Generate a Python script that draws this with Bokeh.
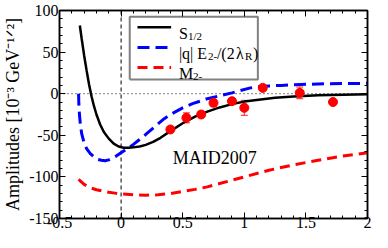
import numpy as np
from bokeh.plotting import figure
from bokeh.models import (Range1d, LinearAxis, Span, Label, Arrow,
                          Whisker, ColumnDataSource, TeeHead, FixedTicker, CustomJSTickFormatter)
from bokeh.embed import file_html
from bokeh.resources import INLINE

# ---- data ----
s12_x = [-0.335, -0.32, -0.30, -0.28, -0.26, -0.24, -0.22, -0.20, -0.17, -0.14, -0.10, -0.06, -0.02,
         0.02, 0.06, 0.10, 0.15, 0.20, 0.26, 0.32, 0.40, 0.50, 0.60, 0.70, 0.80, 0.90, 1.00, 1.10,
         1.25, 1.40, 1.60, 1.80, 2.00]
s12_y = [82, 66, 46, 28, 11, -3, -15, -25, -37, -46, -54, -60, -63.5,
         -65, -65, -64.5, -63.5, -61.5, -58, -53, -45, -35.5, -27.5, -21.5, -16.5, -12.5, -9.5, -7.5,
         -5, -3.3, -2, -1.3, -0.8]

e2_x = [-0.345, -0.343, -0.338, -0.33, -0.32, -0.30, -0.28, -0.25, -0.22, -0.19, -0.16, -0.13, -0.10,
        -0.07, -0.04, 0.0, 0.05, 0.10, 0.15, 0.20, 0.27, 0.35, 0.40, 0.50, 0.58, 0.70, 0.80, 0.90,
        1.05, 1.15, 1.30, 1.46, 1.65, 1.80, 2.00]
e2_y = [0, -12, -25, -38, -48, -59, -66, -72, -76, -79, -80, -80.5, -79.5,
        -77.5, -75, -71, -66, -61, -55, -49, -40, -30, -25, -17, -12, -6, -2.5, 1,
        7, 9, 10, 11, 12, 12.2, 12.5]

m2_x = [-0.345, -0.30, -0.25, -0.20, -0.15, -0.10, -0.05, 0.0, 0.10, 0.20, 0.30, 0.40, 0.50, 0.60,
        0.70, 0.80, 0.90, 1.00, 1.20, 1.40, 1.60, 1.80, 2.00]
m2_y = [-103, -109, -113, -115.5, -117, -118.5, -119.5, -120.5, -121.5, -122, -121.5, -120, -117.5, -115,
        -112, -108, -104, -100, -92, -85.5, -80, -75, -71]

pts_x = [0.40, 0.53, 0.65, 0.75, 0.90, 1.00, 1.15, 1.45, 1.72]
pts_y = [-43, -29, -25, -11, -9, -17, 7, 1, -10]
pts_err = [2, 6, 2, 4, 3, 9, 3, 7, 2]

x_ticks = [-0.5, 0, 0.5, 1, 1.5, 2]
y_ticks = [-150, -100, -50, 0, 50, 100]

# legend frame extent (data units) and rows
leg_box_x = [0.07, 1.11]
leg_box_y = [17, 92.5]
leg_rows = [80.0, 55.6, 31.5]

FONT = "Liberation Serif"

p = figure(width=372, height=232, output_backend="svg", toolbar_location=None,
           x_range=Range1d(-0.5, 2), y_range=Range1d(-150, 100),
           min_border_left=50, min_border_right=5, min_border_top=10, min_border_bottom=14)
p.xgrid.visible = False
p.ygrid.visible = False
p.outline_line_color = "black"
p.outline_line_width = 1.5
p.background_fill_color = "white"
p.border_fill_color = "white"

xt = FixedTicker(ticks=x_ticks, minor_ticks=list(np.round(np.arange(-0.5, 2.0001, 0.1), 2)))
yt = FixedTicker(ticks=y_ticks, minor_ticks=list(range(-150, 101, 10)))
fmt = CustomJSTickFormatter(code="return tick.toString();")

def style_axis(ax, labels=True):
    ax.major_tick_in = 6
    ax.major_tick_out = 0
    ax.minor_tick_in = 3
    ax.minor_tick_out = 0
    ax.axis_line_color = "black"
    ax.axis_line_width = 1.5
    ax.major_tick_line_color = "black"
    ax.minor_tick_line_color = "black"
    if labels:
        ax.major_label_text_font = FONT
        ax.major_label_text_font_size = "16px"
        ax.major_label_text_color = "black"
    else:
        ax.major_label_text_font_size = "1px"
        ax.major_label_text_color = None
        ax.major_label_standoff = 0

p.xaxis.ticker = xt
p.yaxis.ticker = yt
p.xaxis.formatter = fmt
p.yaxis.formatter = fmt
style_axis(p.xaxis[0])
style_axis(p.yaxis[0])
p.xaxis[0].major_label_standoff = -2
p.yaxis[0].major_label_standoff = 1

yax = p.yaxis[0]
yax.axis_label = "Amplitudes [10\u207b\u00b3 GeV\u207b\u00b9\u141f\u00b2]"
yax.axis_label_text_font = FONT
yax.axis_label_text_font_size = "18px"
yax.axis_label_text_font_style = "normal"
yax.axis_label_text_color = "black"
yax.axis_label_standoff = 3

top = LinearAxis(ticker=xt, formatter=fmt)
style_axis(top, labels=False)
p.add_layout(top, "above")
right = LinearAxis(ticker=yt, formatter=fmt)
style_axis(right, labels=False)
p.add_layout(right, "right")

# reference lines
p.add_layout(Span(location=0, dimension="width", line_color="black", line_width=1,
                  line_dash="1 3", level="underlay"))
p.add_layout(Span(location=0, dimension="height", line_color="black", line_width=1,
                  line_dash="4 3", level="underlay"))

# curves
p.line(m2_x, m2_y, line_color="#ff0000", line_width=3, line_dash="10 6")
p.line(e2_x, e2_y, line_color="#0000ff", line_width=3, line_dash="12 6")
p.line(s12_x, s12_y, line_color="black", line_width=2.5)

# data points with error bars
src = ColumnDataSource(dict(x=pts_x, y=pts_y,
                            lo=[a - b for a, b in zip(pts_y, pts_err)],
                            hi=[a + b for a, b in zip(pts_y, pts_err)]))
p.add_layout(Whisker(source=src, base="x", lower="lo", upper="hi", line_color="#ff2020",
                     line_width=1,
                     upper_head=TeeHead(size=7, line_color="#ff2020", line_width=1),
                     lower_head=TeeHead(size=7, line_color="#ff2020", line_width=1)))
p.scatter("x", "y", source=src, size=9, fill_color="#ff0000", line_color="#ff0000")

# MAID2007 label
p.add_layout(Label(x=0.42, y=-77, text="MAID2007", text_font=FONT, text_font_size="18px",
                   text_baseline="middle", text_color="black"))

# legend frame (closed outline)
x0, x1 = leg_box_x
y0, y1 = leg_box_y
p.line([x0, x1, x1, x0, x0], [y0, y0, y1, y1, y0], line_color="#808080", line_width=2)

styles = [("black", None, 2.5), ("#0000ff", "12 6", 3), ("#ff0000", "10 6", 3)]
for ry, (c, d, w) in zip(leg_rows, styles):
    kw = dict(line_color=c, line_width=w)
    if d:
        kw["line_dash"] = d
    p.add_layout(Arrow(x_start=0.133, y_start=ry, x_end=0.406, y_end=ry, start=None, end=None, **kw))

def txt(x, y, s, size, xo=0, yo=0):
    p.add_layout(Label(x=x, y=y, text=s, text_font=FONT, text_font_size=f"{size}px",
                       x_offset=xo, y_offset=yo, text_baseline="alphabetic", text_align="left",
                       text_color="black"))

LX = 0.469
# row 1: S_{1/2}
txt(LX, leg_rows[0], "S", 16, 0, -6)
txt(LX, leg_rows[0], "1/2", 11, 9, -9)
# row 2: |q| E_{2-}/(2 λ_R)
txt(LX, leg_rows[1], "|q| E", 16, 0, -6)
txt(LX, leg_rows[1], "2-", 11, 29, -9)
txt(LX, leg_rows[1], "/(2", 16, 38, -6)
txt(LX, leg_rows[1], "λ", 16, 57, -6)
txt(LX, leg_rows[1], "R", 11, 66, -9)
txt(LX, leg_rows[1], ")", 16, 74, -6)
# row 3: M_{2-}
txt(LX, leg_rows[2], "M", 16, 0, -6)
txt(LX, leg_rows[2], "2-", 11, 14, -9)

open("out.html", "w").write(file_html(p, INLINE))
